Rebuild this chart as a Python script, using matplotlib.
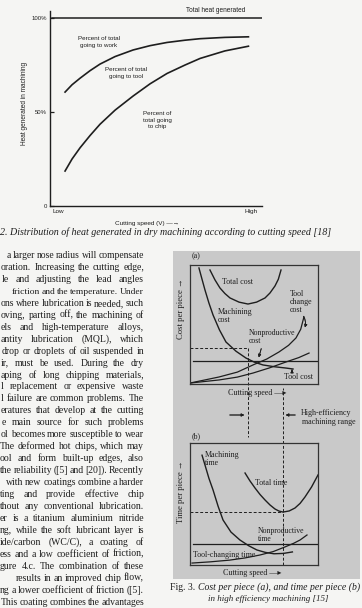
import matplotlib
matplotlib.use("Agg")
import matplotlib.pyplot as plt
from matplotlib.patches import Rectangle

# ---------------- data ----------------
# Fig. 2: heat distribution vs cutting speed (0 = Low, 1 = High)
speed_top = [0.071, 0.104, 0.142, 0.189, 0.236, 0.307, 0.392, 0.472, 0.552,
             0.637, 0.708, 0.825, 0.936]
work_tool_boundary = [60.6, 64.5, 68.0, 72.0, 75.5, 79.5, 83.0, 85.3, 87.0,
                      88.2, 89.0, 89.7, 90.0]
tool_chip_boundary = [18.6, 25.0, 31.0, 37.5, 43.5, 51.0, 58.5, 65.0, 70.5,
                      75.0, 78.5, 82.5, 85.0]
total_heat = 100
heat_ticks = [0, 50, 100]
heat_ticklabels = ["0", "50%", "100%"]
speed_ticklabels = ["Low", "High"]

# Fig. 3(a): cost per piece (normalised)
total_cost_x = [0.156, 0.195, 0.234, 0.273, 0.3125, 0.383, 0.453, 0.52, 0.586,
                0.625, 0.664, 0.69, 0.711]
total_cost_y = [0.958, 0.875, 0.807, 0.76, 0.723, 0.688, 0.672, 0.688, 0.723,
                0.765, 0.824, 0.88, 0.958]
mach_cost_x = [0.07, 0.094, 0.117, 0.148, 0.18, 0.23, 0.281, 0.36, 0.4375,
               0.5, 0.57, 0.66, 0.75, 0.805]
mach_cost_y = [0.975, 0.88, 0.79, 0.68, 0.58, 0.455, 0.353, 0.275, 0.218,
               0.185, 0.16, 0.145, 0.134, 0.126]
toolchange_cost_x = [0.0, 0.227, 0.37, 0.492, 0.6, 0.695, 0.77, 0.828, 0.865, 0.89]
toolchange_cost_y = [0.008, 0.059, 0.1, 0.16, 0.21, 0.269, 0.325, 0.387, 0.46, 0.563]
tool_cost_x = [0.0, 0.227, 0.37, 0.492, 0.62, 0.75, 0.85, 0.93]
tool_cost_y = [0.008, 0.034, 0.058, 0.092, 0.135, 0.185, 0.222, 0.26]
nonprod_cost = 0.193
min_cost_speed = 0.453
min_cost_level = 0.303

# Fig. 3(b): time per piece (normalised)
mach_time_x = [0.094, 0.117, 0.148, 0.18, 0.22, 0.258, 0.32, 0.39, 0.46,
               0.523, 0.59, 0.656, 0.73, 0.8]
mach_time_y = [0.90, 0.82, 0.71, 0.615, 0.48, 0.369, 0.27, 0.205, 0.157,
               0.123, 0.103, 0.092, 0.095, 0.107]
toolchange_time_x = [0.016, 0.16, 0.31, 0.43, 0.547, 0.65, 0.742, 0.81, 0.86, 0.914]
toolchange_time_y = [0.016, 0.026, 0.04, 0.058, 0.082, 0.11, 0.148, 0.178, 0.205, 0.246]
total_time_x = [0.43, 0.468, 0.508, 0.547, 0.586, 0.625, 0.664, 0.695, 0.727,
                0.775, 0.82, 0.86, 0.898, 0.95, 1.0]
total_time_y = [0.754, 0.69, 0.631, 0.578, 0.533, 0.492, 0.459, 0.442, 0.434,
                0.443, 0.467, 0.505, 0.557, 0.64, 0.738]
nonprod_time = 0.172
min_time_speed = 0.727
min_time_level = 0.434

body_lines = [
    "a larger nose radius will compensate",
    "oration. Increasing the cutting edge,",
    "le and adjusting the lead angles",
    "friction and the temperature. Under",
    "ons where lubrication is needed, such",
    "oving, parting off, the machining of",
    "els and high-temperature alloys,",
    "antity lubrication (MQL), which",
    "drop or droplets of oil suspended in",
    "ir, must be used. During the dry",
    "aping of long chipping materials,",
    "l replacement or expensive waste",
    "l failure are common problems. The",
    "eratures that develop at the cutting",
    "e main source for such problems",
    "ol becomes more susceptible to wear",
    "The deformed hot chips, which may",
    "ool and form built-up edges, also",
    "the reliability ([5] and [20]). Recently",
    "with new coatings combine a harder",
    "ting and provide effective chip",
    "thout any conventional lubrication.",
    "er is a titanium aluminium nitride",
    "ng, while the soft lubricant layer is",
    "ide/carbon (WC/C), a coating of",
    "ess and a low coefficient of friction,",
    "gure 4.c. The combination of these",
    "results in an improved chip flow,",
    "ng a lower coefficient of friction ([5].",
    "This coating combines the advantages",
]
body_left = [7, 1, 2, 12, 1, 1, 1, 1, 2, 1, 1, 1, 1, 1, 2, 1, 0, 0, 0, 6,
             0, 0, 0, 0, 0, 0, 0, 16, 0, 1]

# ---------------- layout helpers ----------------
W, H = 362, 608
fig = plt.figure(figsize=(W / 100, H / 100), dpi=100, facecolor="#f5f5f3")
SERIF = ["Liberation Serif", "DejaVu Serif"]
SANS = ["Liberation Sans", "DejaVu Sans"]
INK = "#1e1e1e"


def fx(px):
    return px / W


def fy(py):
    return 1 - py / H


def ax_at(x0, y0, x1, y1, **kw):
    return fig.add_axes([x0 / W, 1 - y1 / H, (x1 - x0) / W, (y1 - y0) / H], **kw)


def ftext(x, y, s, **kw):
    kw.setdefault("color", INK)
    return fig.text(fx(x), fy(y), s, **kw)


renderer = fig.canvas.get_renderer()

# ---------------- Fig. 2 (top chart) ----------------
ax1 = ax_at(50, 10.5, 262, 206)
ax1.set_facecolor("none")
ax1.set_xlim(0, 1)
ax1.set_ylim(0, 104)
for s in ["top", "right"]:
    ax1.spines[s].set_visible(False)
for s in ["left", "bottom"]:
    ax1.spines[s].set_linewidth(1.0)
    ax1.spines[s].set_color(INK)
ax1.axhline(total_heat, color=INK, lw=1.1, xmin=0.01, xmax=1.0)
ax1.plot(speed_top, work_tool_boundary, color=INK, lw=1.2)
ax1.plot(speed_top, tool_chip_boundary, color=INK, lw=1.2)
ax1.set_yticks(heat_ticks)
ax1.set_yticklabels(heat_ticklabels, fontsize=4.3, family=SANS, color=INK)
ax1.tick_params(axis="y", direction="in", length=3, width=0.9, pad=2, colors=INK)
ax1.set_xticks([0.04, 0.95])
ax1.set_xticklabels(speed_ticklabels, fontsize=4.6, family=SANS, color=INK)
ax1.tick_params(axis="x", length=0, pad=2)

ftext(25, 103, "Heat generated in machining", rotation=90, ha="center",
      va="center", fontsize=4.7, family=SANS)
ftext(147, 224, "Cutting speed (V) \u2014\u2192", ha="center", va="center",
      fontsize=4.6, family=SANS)
ftext(216, 11, "Total heat generated", ha="center", va="center",
      fontsize=4.7, family=SANS)
ftext(99, 42, "Percent of total\ngoing to work", ha="center", va="center",
      fontsize=4.5, family=SANS, linespacing=1.35)
ftext(126, 73, "Percent of total\ngoing to tool", ha="center", va="center",
      fontsize=4.5, family=SANS, linespacing=1.35)
ftext(157, 120, "Percent of\ntotal going\nto chip", ha="center", va="center",
      fontsize=4.5, family=SANS, linespacing=1.35)

# caption of Fig. 2 (left part of the page is cut off in the scan)
cap2 = ftext(0.5, 232, "2. Distribution of heat generated in dry machining "
             "according to cutting speed [18]", ha="left", va="center",
             fontsize=7.2, family=SERIF, style="italic")
w2 = cap2.get_window_extent(renderer).width
cap2.set_fontsize(7.2 * 329.5 / w2)

# ---------------- body text (justified) ----------------
for i, (line, left) in enumerate(zip(body_lines, body_left)):
    yb = 258 + i * 11.95
    words = line.split()
    right = 144
    fs = 7.0
    while True:
        arts = [fig.text(0, 0, w, fontsize=fs, family=SERIF, color=INK,
                         va="baseline") for w in words]
        widths = [a.get_window_extent(renderer).width for a in arts]
        gap = (right - left - sum(widths)) / max(len(words) - 1, 1)
        if gap >= 1.3 or fs < 5.8:
            break
        for a in arts:
            a.remove()
        fs -= 0.1
    x = left
    for a, w in zip(arts, widths):
        a.set_position((fx(x), fy(yb)))
        x += w + gap

# ---------------- Fig. 3 grey panel ----------------
fig.add_artist(Rectangle((fx(173), fy(579)), (360 - 173) / W, (579 - 251) / H,
                         transform=fig.transFigure, facecolor="#c9c9c9",
                         edgecolor="none", zorder=0))

LBL = dict(family=SERIF, fontsize=5.8, color=INK)
LBL_S = dict(family=SERIF, fontsize=5.6, color=INK)

# ---- (a) ----
axA = ax_at(190, 265, 318, 384)
axA.set_facecolor("none")
axA.set_xlim(0, 1)
axA.set_ylim(0, 1)
axA.set_xticks([])
axA.set_yticks([])
for s in axA.spines.values():
    s.set_linewidth(0.9)
    s.set_color("#333333")
axA.plot(total_cost_x, total_cost_y, color=INK, lw=1.0)
axA.plot(mach_cost_x, mach_cost_y, color=INK, lw=1.0)
axA.plot(toolchange_cost_x, toolchange_cost_y, color=INK, lw=0.9)
axA.plot(tool_cost_x, tool_cost_y, color=INK, lw=0.9)
axA.plot([0.02, 1.0], [nonprod_cost, nonprod_cost], color=INK, lw=0.9)
axA.plot([0.0, min_cost_speed], [min_cost_level, min_cost_level], color=INK,
         lw=0.7, ls=(0, (3, 2)))
axA.plot([min_cost_speed, min_cost_speed], [min_cost_level, -0.445], color=INK,
         lw=0.7, ls=(0, (3, 2)), clip_on=False)

ftext(192, 256, "(a)", ha="left", va="center", **LBL)
ftext(181, 309, "Cost per piece \u2192", rotation=90, ha="center", va="center",
      family=SERIF, fontsize=6.2, color=INK)
ftext(222, 282, "Total cost", ha="left", va="center", **LBL)
ftext(218, 316, "Machining\ncost", ha="left", va="center", linespacing=1.0, **LBL)
ftext(290, 302, "Tool\nchange\ncost", ha="left", va="center", linespacing=0.95, **LBL)
ftext(249, 337, "Nonproductive\ncost", ha="left", va="center", linespacing=1.0,
      **LBL_S)
ftext(284, 377, "Tool cost", ha="left", va="center", **LBL)
arr = dict(arrowstyle="-|>", color=INK, lw=0.6, mutation_scale=4)


def farrow(x0, y0, x1, y1, **extra):
    fig.add_artist(plt.annotate("", xy=(fx(x1), fy(y1)), xytext=(fx(x0), fy(y0)),
                                xycoords="figure fraction",
                                textcoords="figure fraction",
                                arrowprops=dict(arr, **extra)))


farrow(302, 314, 304, 330, connectionstyle="arc3,rad=-0.3")
farrow(262, 346, 258, 360)
farrow(292, 373, 292, 367)

ftext(257, 393, "Cutting speed \u2014\u25b8", ha="center", va="center", **LBL)
farrow(227, 415, 247, 415)
farrow(298, 415, 283, 415)
ftext(301, 413, "High-efficiency", ha="left", va="center", **LBL)
ftext(302, 422, "machining range", ha="left", va="center", **LBL)

# ---- (b) ----
axB = ax_at(190, 443, 318, 565)
axB.set_facecolor("none")
axB.set_xlim(0, 1)
axB.set_ylim(0, 1)
axB.set_xticks([])
axB.set_yticks([])
for s in axB.spines.values():
    s.set_linewidth(0.9)
    s.set_color("#333333")
axB.plot(mach_time_x, mach_time_y, color=INK, lw=1.0)
axB.plot(total_time_x, total_time_y, color=INK, lw=1.0)
axB.plot(toolchange_time_x, toolchange_time_y, color=INK, lw=0.9)
axB.plot([0.02, 1.0], [nonprod_time, nonprod_time], color=INK, lw=0.9)
axB.plot([0.0, min_time_speed], [min_time_level, min_time_level], color=INK,
         lw=0.7, ls=(0, (3, 2)))
axB.plot([min_time_speed, min_time_speed], [0.0, 1.45], color=INK,
         lw=0.7, ls=(0, (3, 2)), clip_on=False)

ftext(192, 436, "(b)", ha="left", va="center", **LBL)
ftext(181, 492, "Time per piece \u2192", rotation=90, ha="center", va="center",
      family=SERIF, fontsize=6.2, color=INK)
ftext(205, 459, "Machining\ntime", ha="left", va="center", linespacing=1.0, **LBL)
ftext(255, 483, "Total time", ha="left", va="center", **LBL)
ftext(258, 535, "Nonproductive\ntime", ha="left", va="center", linespacing=0.95,
      **LBL_S)
ftext(193, 555, "Tool-changing time", ha="left", va="center", **LBL)
ftext(252, 573, "Cutting speed \u2014\u25b8", ha="center", va="center", **LBL)

# caption of Fig. 3
t_fig = ftext(170, 587, "Fig. 3. ", ha="left", va="center", family=SERIF,
              fontsize=7.0, color=INK)
wfig = t_fig.get_window_extent(renderer).width
ftext(170 + wfig, 587, "Cost per piece (a), and time per piece (b)", ha="left",
      va="center", family=SERIF, fontsize=7.0, style="italic", color=INK)
ftext(208, 599, "in high efficiency machining [15]", ha="left", va="center",
      family=SERIF, fontsize=6.5, style="italic", color=INK)

fig.savefig("out.png", dpi=100, facecolor=fig.get_facecolor())
